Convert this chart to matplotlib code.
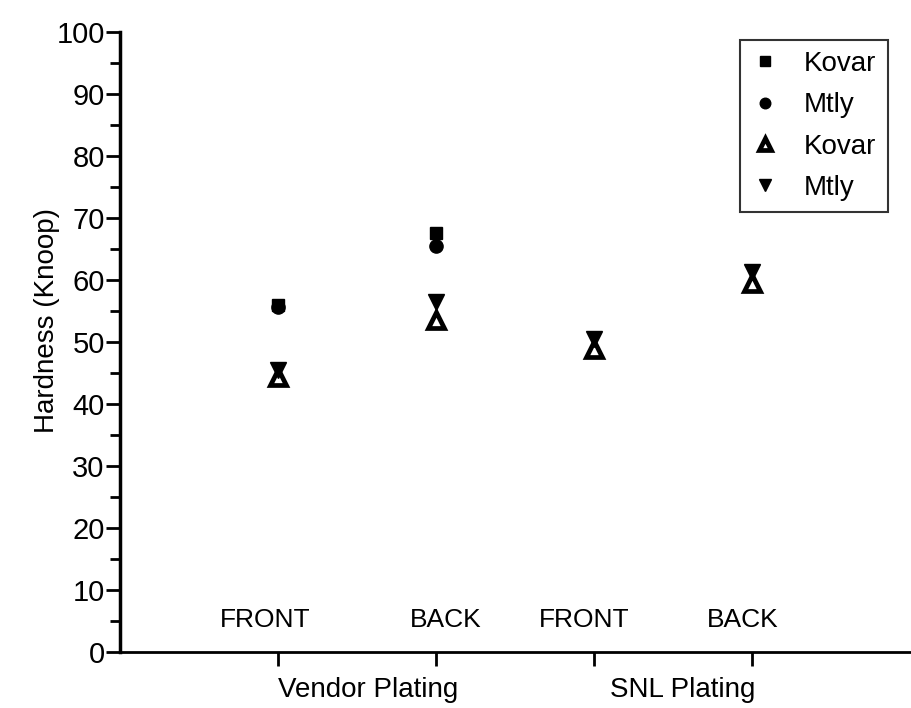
import numpy as np
import matplotlib
matplotlib.use("Agg")
import matplotlib.pyplot as plt
from matplotlib.ticker import MultipleLocator

plt.rcParams["font.family"] = ["Liberation Sans", "DejaVu Sans"]

# sample positions along the x axis and their side labels
positions = [1, 2, 3, 4]
side_labels = ["FRONT", "BACK", "FRONT", "BACK"]
side_label_x = [0.92, 2.06, 2.94, 3.94]
group_labels = ["Vendor Plating", "SNL Plating"]
group_centers = [1.57, 3.56]

# Knoop hardness readings (NaN = not measured)
kovar_a = [56.0, 67.6, np.nan, np.nan]
mtly_a = [55.6, 65.5, np.nan, np.nan]
kovar_b = [44.3, 53.5, 48.9, 59.5]
mtly_b = [45.5, 56.5, 50.5, 61.3]

fig = plt.figure(figsize=(9.11, 7.08), dpi=100)
ax = fig.add_axes([0.1317, 0.0791, 0.867, 0.8757])

ax.plot(positions, kovar_a, ls="none", marker="s", ms=9, color="black", label="Kovar")
ax.plot(positions, mtly_a, ls="none", marker="o", ms=9.5, color="black", label="Mtly")
ax.plot(positions, kovar_b, ls="none", marker="^", ms=11, mfc="white", mec="black",
        mew=3.4, label="Kovar")
ax.plot(positions, mtly_b, ls="none", marker="v", ms=11, color="black", label="Mtly")

ax.set_xlim(0, 5)
ax.set_ylim(0, 100)
ax.spines["top"].set_visible(False)
ax.spines["right"].set_visible(False)
ax.spines["left"].set_linewidth(2.5)
ax.spines["bottom"].set_linewidth(2)

ax.yaxis.set_major_locator(MultipleLocator(10))
ax.yaxis.set_minor_locator(MultipleLocator(5))
ax.tick_params(axis="y", which="major", length=10, width=2, labelsize=21, pad=1)
ax.tick_params(axis="y", which="minor", length=7, width=2)
ax.set_xticks(positions)
ax.set_xticklabels([])
ax.tick_params(axis="x", which="major", length=10, width=2)

ax.set_ylabel("Hardness (Knoop)", fontsize=20)
ax.yaxis.set_label_coords(-0.076, 0.535)

# side labels sit just above the x axis
for x, lab in zip(side_label_x, side_labels):
    ax.text(x, 5.2, lab, ha="center", va="center", fontsize=19)

# group names below the axis
for x, lab in zip(group_centers, group_labels):
    ax.text(x, -0.061, lab, transform=ax.get_xaxis_transform(), ha="center",
            va="center", fontsize=20)

leg = ax.legend(loc="upper right", bbox_to_anchor=(0.972, 0.987), borderaxespad=0,
                fontsize=20, handlelength=1.0, handletextpad=0.9, labelspacing=0.55,
                borderpad=0.4, fancybox=False, markerscale=0.8)
leg.get_frame().set_edgecolor("black")
leg.get_frame().set_linewidth(1.5)

fig.savefig("out.png", dpi=100)
